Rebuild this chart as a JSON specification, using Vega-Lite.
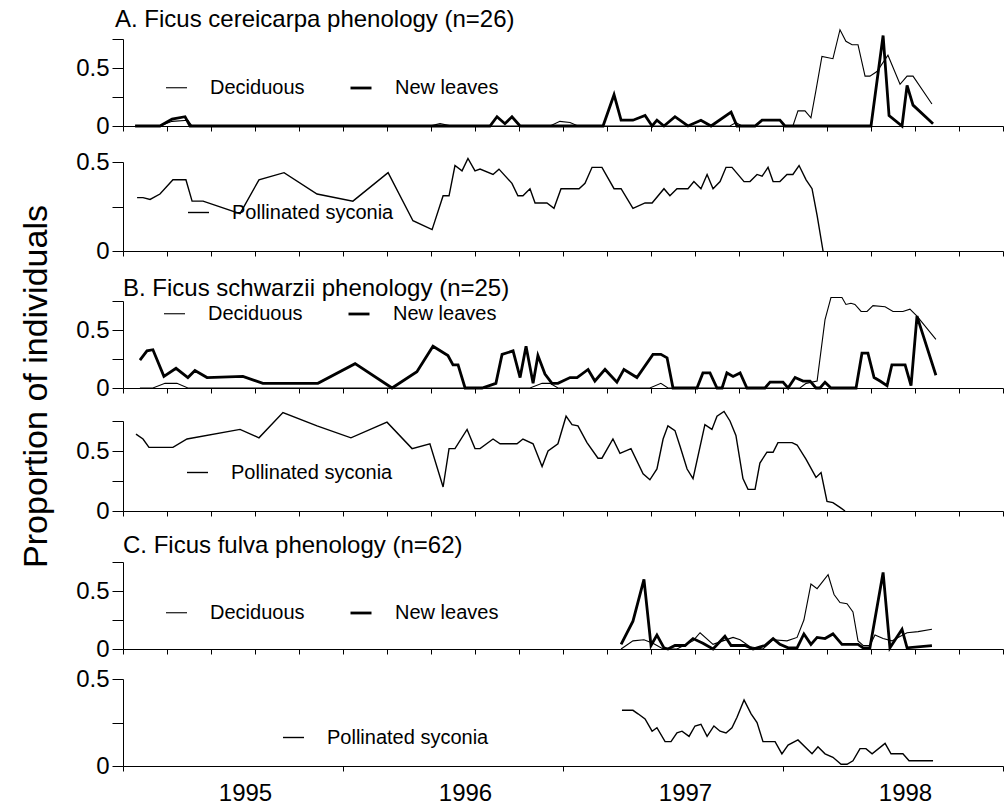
{
"$schema":"https://vega.github.io/schema/vega-lite/v6.json",
"background":"white",
"padding":{"left":18,"top":8,"right":4,"bottom":4},
"config":{
 "font":"Liberation Sans",
 "view":{"stroke":null},
 "axis":{"domainColor":"black","tickColor":"black","labelColor":"black","grid":false,"labelFont":"Liberation Sans","labelFontSize":24,"labelOverlap":false,"domainWidth":1,"tickWidth":1},
 "axisY":{"tickSize":11,"labelPadding":3,"title":null},
 "axisX":{"tickSize":5,"title":null,"labels":false,"values":[1995,1996,1997,1998,1999]},
 "legend":{"orient":"none","direction":"horizontal","labelFontSize":20,"labelFont":"Liberation Sans","labelColor":"black","labelLimit":400,"symbolType":"stroke","symbolSize":441,"symbolStrokeColor":"black","labelOffset":22,"columnPadding":39,"padding":0,"title":null},
 "title":{"anchor":"start","frame":"group","fontSize":24,"fontWeight":"normal","font":"Liberation Sans","color":"black"}
},
"datasets":{
"a1":[
{"s":"Deciduous","t":1995.055,"v":0},{"s":"Deciduous","t":1995.168,"v":0},{"s":"Deciduous","t":1995.223,"v":0.04},{"s":"Deciduous","t":1995.295,"v":0.05},{"s":"Deciduous","t":1995.314,"v":0},{"s":"Deciduous","t":1996.395,"v":0},{"s":"Deciduous","t":1996.441,"v":0.02},{"s":"Deciduous","t":1996.495,"v":0},{"s":"Deciduous","t":1996.941,"v":0},{"s":"Deciduous","t":1996.986,"v":0.04},{"s":"Deciduous","t":1997.032,"v":0.03},{"s":"Deciduous","t":1997.068,"v":0},{"s":"Deciduous","t":1997.759,"v":0},{"s":"Deciduous","t":1997.786,"v":0.03},{"s":"Deciduous","t":1997.814,"v":0},{"s":"Deciduous","t":1998.045,"v":0},{"s":"Deciduous","t":1998.068,"v":0.13},{"s":"Deciduous","t":1998.1,"v":0.13},{"s":"Deciduous","t":1998.127,"v":0.07},{"s":"Deciduous","t":1998.15,"v":0.31},{"s":"Deciduous","t":1998.177,"v":0.6},{"s":"Deciduous","t":1998.227,"v":0.58},{"s":"Deciduous","t":1998.259,"v":0.83},{"s":"Deciduous","t":1998.286,"v":0.73},{"s":"Deciduous","t":1998.314,"v":0.7},{"s":"Deciduous","t":1998.341,"v":0.7},{"s":"Deciduous","t":1998.373,"v":0.43},{"s":"Deciduous","t":1998.395,"v":0.43},{"s":"Deciduous","t":1998.427,"v":0.47},{"s":"Deciduous","t":1998.477,"v":0.61},{"s":"Deciduous","t":1998.532,"v":0.36},{"s":"Deciduous","t":1998.564,"v":0.43},{"s":"Deciduous","t":1998.591,"v":0.43},{"s":"Deciduous","t":1998.677,"v":0.19},
{"s":"New leaves","t":1995.055,"v":0},{"s":"New leaves","t":1995.168,"v":0},{"s":"New leaves","t":1995.223,"v":0.06},{"s":"New leaves","t":1995.282,"v":0.08},{"s":"New leaves","t":1995.305,"v":0},{"s":"New leaves","t":1996.668,"v":0},{"s":"New leaves","t":1996.7,"v":0.08},{"s":"New leaves","t":1996.736,"v":0.02},{"s":"New leaves","t":1996.768,"v":0.08},{"s":"New leaves","t":1996.805,"v":0},{"s":"New leaves","t":1997.182,"v":0},{"s":"New leaves","t":1997.232,"v":0.27},{"s":"New leaves","t":1997.264,"v":0.05},{"s":"New leaves","t":1997.318,"v":0.05},{"s":"New leaves","t":1997.373,"v":0.09},{"s":"New leaves","t":1997.405,"v":0},{"s":"New leaves","t":1997.427,"v":0.05},{"s":"New leaves","t":1997.459,"v":0},{"s":"New leaves","t":1997.509,"v":0.08},{"s":"New leaves","t":1997.568,"v":0},{"s":"New leaves","t":1997.627,"v":0.05},{"s":"New leaves","t":1997.673,"v":0},{"s":"New leaves","t":1997.764,"v":0.12},{"s":"New leaves","t":1997.791,"v":0},{"s":"New leaves","t":1997.873,"v":0},{"s":"New leaves","t":1997.905,"v":0.05},{"s":"New leaves","t":1997.986,"v":0.05},{"s":"New leaves","t":1998.009,"v":0},{"s":"New leaves","t":1998.4,"v":0},{"s":"New leaves","t":1998.455,"v":0.78},{"s":"New leaves","t":1998.482,"v":0.09},{"s":"New leaves","t":1998.541,"v":0},{"s":"New leaves","t":1998.564,"v":0.35},{"s":"New leaves","t":1998.591,"v":0.18},{"s":"New leaves","t":1998.682,"v":0.02}
],
"a2":[
{"s":"Pollinated syconia","t":1995.064,"v":0.3},{"s":"Pollinated syconia","t":1995.091,"v":0.3},{"s":"Pollinated syconia","t":1995.123,"v":0.29},{"s":"Pollinated syconia","t":1995.168,"v":0.32},{"s":"Pollinated syconia","t":1995.227,"v":0.4},{"s":"Pollinated syconia","t":1995.286,"v":0.4},{"s":"Pollinated syconia","t":1995.314,"v":0.28},{"s":"Pollinated syconia","t":1995.364,"v":0.28},{"s":"Pollinated syconia","t":1995.532,"v":0.21},{"s":"Pollinated syconia","t":1995.618,"v":0.4},{"s":"Pollinated syconia","t":1995.732,"v":0.44},{"s":"Pollinated syconia","t":1995.882,"v":0.32},{"s":"Pollinated syconia","t":1996.045,"v":0.28},{"s":"Pollinated syconia","t":1996.205,"v":0.44},{"s":"Pollinated syconia","t":1996.318,"v":0.17},{"s":"Pollinated syconia","t":1996.405,"v":0.12},{"s":"Pollinated syconia","t":1996.455,"v":0.31},{"s":"Pollinated syconia","t":1996.482,"v":0.31},{"s":"Pollinated syconia","t":1996.509,"v":0.48},{"s":"Pollinated syconia","t":1996.541,"v":0.45},{"s":"Pollinated syconia","t":1996.568,"v":0.52},{"s":"Pollinated syconia","t":1996.6,"v":0.45},{"s":"Pollinated syconia","t":1996.623,"v":0.46},{"s":"Pollinated syconia","t":1996.682,"v":0.43},{"s":"Pollinated syconia","t":1996.709,"v":0.46},{"s":"Pollinated syconia","t":1996.768,"v":0.38},{"s":"Pollinated syconia","t":1996.795,"v":0.31},{"s":"Pollinated syconia","t":1996.818,"v":0.31},{"s":"Pollinated syconia","t":1996.85,"v":0.35},{"s":"Pollinated syconia","t":1996.873,"v":0.27},{"s":"Pollinated syconia","t":1996.927,"v":0.27},{"s":"Pollinated syconia","t":1996.959,"v":0.24},{"s":"Pollinated syconia","t":1996.991,"v":0.35},{"s":"Pollinated syconia","t":1997.073,"v":0.35},{"s":"Pollinated syconia","t":1997.1,"v":0.38},{"s":"Pollinated syconia","t":1997.132,"v":0.47},{"s":"Pollinated syconia","t":1997.177,"v":0.47},{"s":"Pollinated syconia","t":1997.232,"v":0.35},{"s":"Pollinated syconia","t":1997.264,"v":0.35},{"s":"Pollinated syconia","t":1997.318,"v":0.24},{"s":"Pollinated syconia","t":1997.373,"v":0.27},{"s":"Pollinated syconia","t":1997.405,"v":0.27},{"s":"Pollinated syconia","t":1997.459,"v":0.35},{"s":"Pollinated syconia","t":1997.486,"v":0.31},{"s":"Pollinated syconia","t":1997.518,"v":0.35},{"s":"Pollinated syconia","t":1997.568,"v":0.35},{"s":"Pollinated syconia","t":1997.595,"v":0.39},{"s":"Pollinated syconia","t":1997.627,"v":0.35},{"s":"Pollinated syconia","t":1997.655,"v":0.43},{"s":"Pollinated syconia","t":1997.682,"v":0.35},{"s":"Pollinated syconia","t":1997.714,"v":0.39},{"s":"Pollinated syconia","t":1997.741,"v":0.47},{"s":"Pollinated syconia","t":1997.768,"v":0.47},{"s":"Pollinated syconia","t":1997.823,"v":0.39},{"s":"Pollinated syconia","t":1997.85,"v":0.39},{"s":"Pollinated syconia","t":1997.882,"v":0.43},{"s":"Pollinated syconia","t":1997.905,"v":0.42},{"s":"Pollinated syconia","t":1997.932,"v":0.47},{"s":"Pollinated syconia","t":1997.955,"v":0.39},{"s":"Pollinated syconia","t":1997.986,"v":0.39},{"s":"Pollinated syconia","t":1998.018,"v":0.43},{"s":"Pollinated syconia","t":1998.045,"v":0.43},{"s":"Pollinated syconia","t":1998.073,"v":0.48},{"s":"Pollinated syconia","t":1998.105,"v":0.4},{"s":"Pollinated syconia","t":1998.132,"v":0.35},{"s":"Pollinated syconia","t":1998.155,"v":0.2},{"s":"Pollinated syconia","t":1998.182,"v":0}
],
"b1":[
{"s":"Deciduous","t":1995.077,"v":0},{"s":"Deciduous","t":1995.136,"v":0},{"s":"Deciduous","t":1995.191,"v":0.04},{"s":"Deciduous","t":1995.245,"v":0.04},{"s":"Deciduous","t":1995.295,"v":0},{"s":"Deciduous","t":1996.85,"v":0},{"s":"Deciduous","t":1996.905,"v":0.04},{"s":"Deciduous","t":1996.941,"v":0.04},{"s":"Deciduous","t":1996.977,"v":0},{"s":"Deciduous","t":1997.395,"v":0},{"s":"Deciduous","t":1997.445,"v":0.04},{"s":"Deciduous","t":1997.477,"v":0},{"s":"Deciduous","t":1998.077,"v":0},{"s":"Deciduous","t":1998.105,"v":0.04},{"s":"Deciduous","t":1998.155,"v":0.06},{"s":"Deciduous","t":1998.191,"v":0.59},{"s":"Deciduous","t":1998.218,"v":0.78},{"s":"Deciduous","t":1998.268,"v":0.78},{"s":"Deciduous","t":1998.286,"v":0.72},{"s":"Deciduous","t":1998.309,"v":0.73},{"s":"Deciduous","t":1998.327,"v":0.72},{"s":"Deciduous","t":1998.355,"v":0.66},{"s":"Deciduous","t":1998.382,"v":0.66},{"s":"Deciduous","t":1998.409,"v":0.71},{"s":"Deciduous","t":1998.464,"v":0.7},{"s":"Deciduous","t":1998.5,"v":0.66},{"s":"Deciduous","t":1998.545,"v":0.66},{"s":"Deciduous","t":1998.577,"v":0.68},{"s":"Deciduous","t":1998.609,"v":0.62},{"s":"Deciduous","t":1998.695,"v":0.42},
{"s":"New leaves","t":1995.077,"v":0.24},{"s":"New leaves","t":1995.109,"v":0.32},{"s":"New leaves","t":1995.136,"v":0.33},{"s":"New leaves","t":1995.186,"v":0.1},{"s":"New leaves","t":1995.241,"v":0.17},{"s":"New leaves","t":1995.295,"v":0.09},{"s":"New leaves","t":1995.327,"v":0.15},{"s":"New leaves","t":1995.382,"v":0.09},{"s":"New leaves","t":1995.545,"v":0.1},{"s":"New leaves","t":1995.636,"v":0.04},{"s":"New leaves","t":1995.886,"v":0.04},{"s":"New leaves","t":1996.055,"v":0.21},{"s":"New leaves","t":1996.223,"v":0},{"s":"New leaves","t":1996.336,"v":0.14},{"s":"New leaves","t":1996.409,"v":0.36},{"s":"New leaves","t":1996.477,"v":0.28},{"s":"New leaves","t":1996.5,"v":0.2},{"s":"New leaves","t":1996.523,"v":0.2},{"s":"New leaves","t":1996.555,"v":0},{"s":"New leaves","t":1996.632,"v":0},{"s":"New leaves","t":1996.695,"v":0.04},{"s":"New leaves","t":1996.723,"v":0.29},{"s":"New leaves","t":1996.773,"v":0.32},{"s":"New leaves","t":1996.805,"v":0.09},{"s":"New leaves","t":1996.832,"v":0.36},{"s":"New leaves","t":1996.864,"v":0.04},{"s":"New leaves","t":1996.886,"v":0.28},{"s":"New leaves","t":1996.918,"v":0.12},{"s":"New leaves","t":1996.95,"v":0.04},{"s":"New leaves","t":1996.977,"v":0.04},{"s":"New leaves","t":1997.032,"v":0.09},{"s":"New leaves","t":1997.064,"v":0.09},{"s":"New leaves","t":1997.114,"v":0.16},{"s":"New leaves","t":1997.145,"v":0.06},{"s":"New leaves","t":1997.191,"v":0.16},{"s":"New leaves","t":1997.245,"v":0.05},{"s":"New leaves","t":1997.277,"v":0.16},{"s":"New leaves","t":1997.336,"v":0.09},{"s":"New leaves","t":1997.409,"v":0.29},{"s":"New leaves","t":1997.445,"v":0.29},{"s":"New leaves","t":1997.473,"v":0.26},{"s":"New leaves","t":1997.5,"v":0},{"s":"New leaves","t":1997.609,"v":0},{"s":"New leaves","t":1997.636,"v":0.13},{"s":"New leaves","t":1997.668,"v":0.13},{"s":"New leaves","t":1997.7,"v":0},{"s":"New leaves","t":1997.723,"v":0},{"s":"New leaves","t":1997.745,"v":0.13},{"s":"New leaves","t":1997.773,"v":0.1},{"s":"New leaves","t":1997.805,"v":0.13},{"s":"New leaves","t":1997.836,"v":0},{"s":"New leaves","t":1997.918,"v":0},{"s":"New leaves","t":1997.941,"v":0.05},{"s":"New leaves","t":1998.0,"v":0.05},{"s":"New leaves","t":1998.023,"v":0},{"s":"New leaves","t":1998.055,"v":0.09},{"s":"New leaves","t":1998.091,"v":0.06},{"s":"New leaves","t":1998.123,"v":0.06},{"s":"New leaves","t":1998.15,"v":0},{"s":"New leaves","t":1998.168,"v":0},{"s":"New leaves","t":1998.191,"v":0.05},{"s":"New leaves","t":1998.218,"v":0},{"s":"New leaves","t":1998.332,"v":0},{"s":"New leaves","t":1998.359,"v":0.3},{"s":"New leaves","t":1998.386,"v":0.3},{"s":"New leaves","t":1998.414,"v":0.09},{"s":"New leaves","t":1998.441,"v":0.06},{"s":"New leaves","t":1998.473,"v":0.02},{"s":"New leaves","t":1998.495,"v":0.2},{"s":"New leaves","t":1998.555,"v":0.2},{"s":"New leaves","t":1998.582,"v":0.02},{"s":"New leaves","t":1998.609,"v":0.62},{"s":"New leaves","t":1998.695,"v":0.11}
],
"b2":[
{"s":"Pollinated syconia","t":1995.059,"v":0.64},{"s":"Pollinated syconia","t":1995.091,"v":0.6},{"s":"Pollinated syconia","t":1995.118,"v":0.53},{"s":"Pollinated syconia","t":1995.227,"v":0.53},{"s":"Pollinated syconia","t":1995.291,"v":0.6},{"s":"Pollinated syconia","t":1995.532,"v":0.68},{"s":"Pollinated syconia","t":1995.618,"v":0.61},{"s":"Pollinated syconia","t":1995.727,"v":0.82},{"s":"Pollinated syconia","t":1995.882,"v":0.71},{"s":"Pollinated syconia","t":1996.036,"v":0.61},{"s":"Pollinated syconia","t":1996.2,"v":0.74},{"s":"Pollinated syconia","t":1996.314,"v":0.52},{"s":"Pollinated syconia","t":1996.395,"v":0.56},{"s":"Pollinated syconia","t":1996.455,"v":0.2},{"s":"Pollinated syconia","t":1996.482,"v":0.52},{"s":"Pollinated syconia","t":1996.509,"v":0.52},{"s":"Pollinated syconia","t":1996.564,"v":0.68},{"s":"Pollinated syconia","t":1996.6,"v":0.52},{"s":"Pollinated syconia","t":1996.623,"v":0.52},{"s":"Pollinated syconia","t":1996.682,"v":0.6},{"s":"Pollinated syconia","t":1996.714,"v":0.56},{"s":"Pollinated syconia","t":1996.791,"v":0.56},{"s":"Pollinated syconia","t":1996.818,"v":0.6},{"s":"Pollinated syconia","t":1996.864,"v":0.56},{"s":"Pollinated syconia","t":1996.905,"v":0.37},{"s":"Pollinated syconia","t":1996.932,"v":0.5},{"s":"Pollinated syconia","t":1996.977,"v":0.56},{"s":"Pollinated syconia","t":1997.014,"v":0.79},{"s":"Pollinated syconia","t":1997.041,"v":0.72},{"s":"Pollinated syconia","t":1997.068,"v":0.71},{"s":"Pollinated syconia","t":1997.109,"v":0.57},{"s":"Pollinated syconia","t":1997.159,"v":0.44},{"s":"Pollinated syconia","t":1997.177,"v":0.44},{"s":"Pollinated syconia","t":1997.227,"v":0.6},{"s":"Pollinated syconia","t":1997.259,"v":0.48},{"s":"Pollinated syconia","t":1997.309,"v":0.52},{"s":"Pollinated syconia","t":1997.364,"v":0.31},{"s":"Pollinated syconia","t":1997.395,"v":0.26},{"s":"Pollinated syconia","t":1997.427,"v":0.35},{"s":"Pollinated syconia","t":1997.455,"v":0.6},{"s":"Pollinated syconia","t":1997.477,"v":0.71},{"s":"Pollinated syconia","t":1997.509,"v":0.67},{"s":"Pollinated syconia","t":1997.532,"v":0.54},{"s":"Pollinated syconia","t":1997.564,"v":0.35},{"s":"Pollinated syconia","t":1997.591,"v":0.27},{"s":"Pollinated syconia","t":1997.645,"v":0.72},{"s":"Pollinated syconia","t":1997.677,"v":0.68},{"s":"Pollinated syconia","t":1997.7,"v":0.79},{"s":"Pollinated syconia","t":1997.732,"v":0.83},{"s":"Pollinated syconia","t":1997.759,"v":0.75},{"s":"Pollinated syconia","t":1997.786,"v":0.63},{"s":"Pollinated syconia","t":1997.818,"v":0.27},{"s":"Pollinated syconia","t":1997.841,"v":0.18},{"s":"Pollinated syconia","t":1997.873,"v":0.18},{"s":"Pollinated syconia","t":1997.895,"v":0.4},{"s":"Pollinated syconia","t":1997.927,"v":0.49},{"s":"Pollinated syconia","t":1997.955,"v":0.49},{"s":"Pollinated syconia","t":1997.977,"v":0.57},{"s":"Pollinated syconia","t":1998.041,"v":0.57},{"s":"Pollinated syconia","t":1998.064,"v":0.55},{"s":"Pollinated syconia","t":1998.105,"v":0.43},{"s":"Pollinated syconia","t":1998.15,"v":0.28},{"s":"Pollinated syconia","t":1998.173,"v":0.32},{"s":"Pollinated syconia","t":1998.2,"v":0.08},{"s":"Pollinated syconia","t":1998.227,"v":0.07},{"s":"Pollinated syconia","t":1998.259,"v":0.03},{"s":"Pollinated syconia","t":1998.282,"v":0}
],
"c1":[
{"s":"Deciduous","t":1997.264,"v":0},{"s":"Deciduous","t":1997.318,"v":0.07},{"s":"Deciduous","t":1997.368,"v":0.08},{"s":"Deciduous","t":1997.409,"v":0.05},{"s":"Deciduous","t":1997.455,"v":0},{"s":"Deciduous","t":1997.518,"v":0},{"s":"Deciduous","t":1997.591,"v":0.07},{"s":"Deciduous","t":1997.623,"v":0.14},{"s":"Deciduous","t":1997.682,"v":0.04},{"s":"Deciduous","t":1997.727,"v":0.07},{"s":"Deciduous","t":1997.773,"v":0.1},{"s":"Deciduous","t":1997.805,"v":0.08},{"s":"Deciduous","t":1997.85,"v":0.02},{"s":"Deciduous","t":1997.909,"v":0},{"s":"Deciduous","t":1997.955,"v":0.08},{"s":"Deciduous","t":1998.018,"v":0.07},{"s":"Deciduous","t":1998.064,"v":0.1},{"s":"Deciduous","t":1998.095,"v":0.25},{"s":"Deciduous","t":1998.127,"v":0.56},{"s":"Deciduous","t":1998.155,"v":0.52},{"s":"Deciduous","t":1998.205,"v":0.64},{"s":"Deciduous","t":1998.232,"v":0.47},{"s":"Deciduous","t":1998.259,"v":0.4},{"s":"Deciduous","t":1998.291,"v":0.39},{"s":"Deciduous","t":1998.318,"v":0.32},{"s":"Deciduous","t":1998.341,"v":0.07},{"s":"Deciduous","t":1998.364,"v":0.03},{"s":"Deciduous","t":1998.395,"v":0.03},{"s":"Deciduous","t":1998.418,"v":0.12},{"s":"Deciduous","t":1998.455,"v":0.09},{"s":"Deciduous","t":1998.495,"v":0.07},{"s":"Deciduous","t":1998.523,"v":0.1},{"s":"Deciduous","t":1998.564,"v":0.14},{"s":"Deciduous","t":1998.614,"v":0.15},{"s":"Deciduous","t":1998.677,"v":0.17},
{"s":"New leaves","t":1997.264,"v":0.04},{"s":"New leaves","t":1997.318,"v":0.24},{"s":"New leaves","t":1997.368,"v":0.6},{"s":"New leaves","t":1997.4,"v":0.03},{"s":"New leaves","t":1997.427,"v":0.12},{"s":"New leaves","t":1997.459,"v":0.01},{"s":"New leaves","t":1997.477,"v":0},{"s":"New leaves","t":1997.509,"v":0.03},{"s":"New leaves","t":1997.555,"v":0.03},{"s":"New leaves","t":1997.591,"v":0.09},{"s":"New leaves","t":1997.636,"v":0.05},{"s":"New leaves","t":1997.682,"v":0},{"s":"New leaves","t":1997.736,"v":0.11},{"s":"New leaves","t":1997.764,"v":0.03},{"s":"New leaves","t":1997.827,"v":0.03},{"s":"New leaves","t":1997.864,"v":0},{"s":"New leaves","t":1997.918,"v":0.03},{"s":"New leaves","t":1997.955,"v":0.09},{"s":"New leaves","t":1997.986,"v":0.04},{"s":"New leaves","t":1998.023,"v":0.01},{"s":"New leaves","t":1998.064,"v":0.01},{"s":"New leaves","t":1998.095,"v":0.13},{"s":"New leaves","t":1998.127,"v":0.04},{"s":"New leaves","t":1998.155,"v":0.1},{"s":"New leaves","t":1998.191,"v":0.09},{"s":"New leaves","t":1998.227,"v":0.13},{"s":"New leaves","t":1998.268,"v":0.04},{"s":"New leaves","t":1998.341,"v":0.04},{"s":"New leaves","t":1998.364,"v":0.01},{"s":"New leaves","t":1998.395,"v":0.01},{"s":"New leaves","t":1998.455,"v":0.66},{"s":"New leaves","t":1998.486,"v":0.01},{"s":"New leaves","t":1998.541,"v":0.17},{"s":"New leaves","t":1998.564,"v":0.01},{"s":"New leaves","t":1998.677,"v":0.03}
],
"c2":[
{"s":"Pollinated syconia","t":1997.268,"v":0.32},{"s":"Pollinated syconia","t":1997.318,"v":0.32},{"s":"Pollinated syconia","t":1997.341,"v":0.3},{"s":"Pollinated syconia","t":1997.373,"v":0.27},{"s":"Pollinated syconia","t":1997.405,"v":0.2},{"s":"Pollinated syconia","t":1997.427,"v":0.22},{"s":"Pollinated syconia","t":1997.464,"v":0.14},{"s":"Pollinated syconia","t":1997.491,"v":0.14},{"s":"Pollinated syconia","t":1997.518,"v":0.19},{"s":"Pollinated syconia","t":1997.541,"v":0.2},{"s":"Pollinated syconia","t":1997.573,"v":0.17},{"s":"Pollinated syconia","t":1997.6,"v":0.23},{"s":"Pollinated syconia","t":1997.627,"v":0.24},{"s":"Pollinated syconia","t":1997.655,"v":0.17},{"s":"Pollinated syconia","t":1997.686,"v":0.23},{"s":"Pollinated syconia","t":1997.714,"v":0.2},{"s":"Pollinated syconia","t":1997.741,"v":0.19},{"s":"Pollinated syconia","t":1997.768,"v":0.22},{"s":"Pollinated syconia","t":1997.791,"v":0.28},{"s":"Pollinated syconia","t":1997.823,"v":0.38},{"s":"Pollinated syconia","t":1997.855,"v":0.3},{"s":"Pollinated syconia","t":1997.882,"v":0.25},{"s":"Pollinated syconia","t":1997.909,"v":0.14},{"s":"Pollinated syconia","t":1997.964,"v":0.14},{"s":"Pollinated syconia","t":1997.995,"v":0.07},{"s":"Pollinated syconia","t":1998.023,"v":0.12},{"s":"Pollinated syconia","t":1998.068,"v":0.15},{"s":"Pollinated syconia","t":1998.132,"v":0.07},{"s":"Pollinated syconia","t":1998.159,"v":0.11},{"s":"Pollinated syconia","t":1998.191,"v":0.07},{"s":"Pollinated syconia","t":1998.227,"v":0.05},{"s":"Pollinated syconia","t":1998.264,"v":0.01},{"s":"Pollinated syconia","t":1998.291,"v":0.01},{"s":"Pollinated syconia","t":1998.318,"v":0.03},{"s":"Pollinated syconia","t":1998.35,"v":0.1},{"s":"Pollinated syconia","t":1998.377,"v":0.1},{"s":"Pollinated syconia","t":1998.405,"v":0.07},{"s":"Pollinated syconia","t":1998.464,"v":0.13},{"s":"Pollinated syconia","t":1998.491,"v":0.07},{"s":"Pollinated syconia","t":1998.545,"v":0.07},{"s":"Pollinated syconia","t":1998.573,"v":0.03},{"s":"Pollinated syconia","t":1998.682,"v":0.03}
]
},
"bounds":"flush",
"spacing":30,
"resolve":{"scale":{"x":"independent","y":"independent","strokeWidth":"independent"},"legend":{"strokeWidth":"independent"},"axis":{"x":"independent","y":"independent"}},
"vconcat":[
{
 "title":{"text":"A. Ficus cereicarpa phenology (n=26)","offset":-5,"dx":-8},
 "width":880,"height":87,
 "data":{"name":"a1"},
 "mark":{"type":"line","color":"black"},
 "encoding":{
  "x":{"field":"t","type":"quantitative","scale":{"domain":[1995,1999],"nice":false,"zero":false}},
  "y":{"field":"v","type":"quantitative","scale":{"domain":[0,0.75],"nice":false,"range":[87,0]},"axis":{"values":[0,0.25,0.5,0.75],"labelExpr":"datum.value==0?'0':(datum.value==0.5?'0.5':'')"}},
  "strokeWidth":{"field":"s","type":"nominal","scale":{"domain":["Deciduous","New leaves"],"range":[1.1,2.8]},"legend":{"legendX":42,"legendY":37}}
 }
},
{
 "width":880,"height":95,
 "data":{"name":"a2"},
 "mark":{"type":"line","color":"black"},
 "encoding":{
  "x":{"field":"t","type":"quantitative","scale":{"domain":[1995,1999],"nice":false,"zero":false}},
  "y":{"field":"v","type":"quantitative","scale":{"domain":[0,0.5],"nice":false,"range":[95,6]},"axis":{"values":[0,0.25,0.5],"labelExpr":"datum.value==0?'0':(datum.value==0.5?'0.5':'')"}},
  "strokeWidth":{"field":"s","type":"nominal","scale":{"domain":["Pollinated syconia","other"],"range":[1.4,1.4]},"legend":{"legendX":64,"legendY":45,"values":["Pollinated syconia"]}}
 }
},
{
 "title":{"text":"B. Ficus schwarzii phenology (n=25)","offset":-20},
 "width":880,"height":107,
 "data":{"name":"b1"},
 "mark":{"type":"line","color":"black"},
 "encoding":{
  "x":{"field":"t","type":"quantitative","scale":{"domain":[1995,1999],"nice":false,"zero":false}},
  "y":{"field":"v","type":"quantitative","scale":{"domain":[0,0.75],"nice":false,"range":[107,20]},"axis":{"values":[0,0.25,0.5,0.75],"labelExpr":"datum.value==0?'0':(datum.value==0.5?'0.5':'')"}},
  "strokeWidth":{"field":"s","type":"nominal","scale":{"domain":["Deciduous","New leaves"],"range":[1.1,2.8]},"legend":{"legendX":40,"legendY":21}}
 }
},
{
 "width":880,"height":93,
 "data":{"name":"b2"},
 "mark":{"type":"line","color":"black"},
 "encoding":{
  "x":{"field":"t","type":"quantitative","scale":{"domain":[1995,1999],"nice":false,"zero":false}},
  "y":{"field":"v","type":"quantitative","scale":{"domain":[0,0.75],"nice":false,"range":[93,3]},"axis":{"values":[0,0.25,0.5,0.75],"labelExpr":"datum.value==0?'0':(datum.value==0.5?'0.5':'')","title":"Proportion of individuals","titleFontSize":34,"titleFontWeight":"normal","titleFont":"Liberation Sans","titleColor":"black","titleAngle":270,"titleAlign":"center","titleBaseline":"alphabetic","titleX":-77,"titleY":-32}},
  "strokeWidth":{"field":"s","type":"nominal","scale":{"domain":["Pollinated syconia","other"],"range":[1.4,1.4]},"legend":{"legendX":63,"legendY":43,"values":["Pollinated syconia"]}}
 }
},
{
 "title":{"text":"C. Ficus fulva phenology (n=62)","offset":-17},
 "width":880,"height":108,
 "data":{"name":"c1"},
 "mark":{"type":"line","color":"black"},
 "encoding":{
  "x":{"field":"t","type":"quantitative","scale":{"domain":[1995,1999],"nice":false,"zero":false}},
  "y":{"field":"v","type":"quantitative","scale":{"domain":[0,0.75],"nice":false,"range":[108,21]},"axis":{"values":[0,0.25,0.5,0.75],"labelExpr":"datum.value==0?'0':(datum.value==0.5?'0.5':'')"}},
  "strokeWidth":{"field":"s","type":"nominal","scale":{"domain":["Deciduous","New leaves"],"range":[1.1,2.8]},"legend":{"legendX":42,"legendY":60}}
 }
},
{
 "width":880,"height":87,
 "data":{"name":"c2"},
 "mark":{"type":"line","color":"black"},
 "encoding":{
  "x":{"field":"t","type":"quantitative","scale":{"domain":[1995,1999],"nice":false,"zero":false},"axis":{"labels":true,"format":"d","labelExpr":"datum.value<1999?datum.label:''","labelOffset":122,"labelFlush":false,"labelPadding":10}},
  "y":{"field":"v","type":"quantitative","scale":{"domain":[0,0.5],"nice":false,"range":[87,0]},"axis":{"values":[0,0.25,0.5],"labelExpr":"datum.value==0?'0':(datum.value==0.5?'0.5':'')"}},
  "strokeWidth":{"field":"s","type":"nominal","scale":{"domain":["Pollinated syconia","other"],"range":[1.4,1.4]},"legend":{"legendX":159,"legendY":47,"values":["Pollinated syconia"]}}
 }
}
]
}
